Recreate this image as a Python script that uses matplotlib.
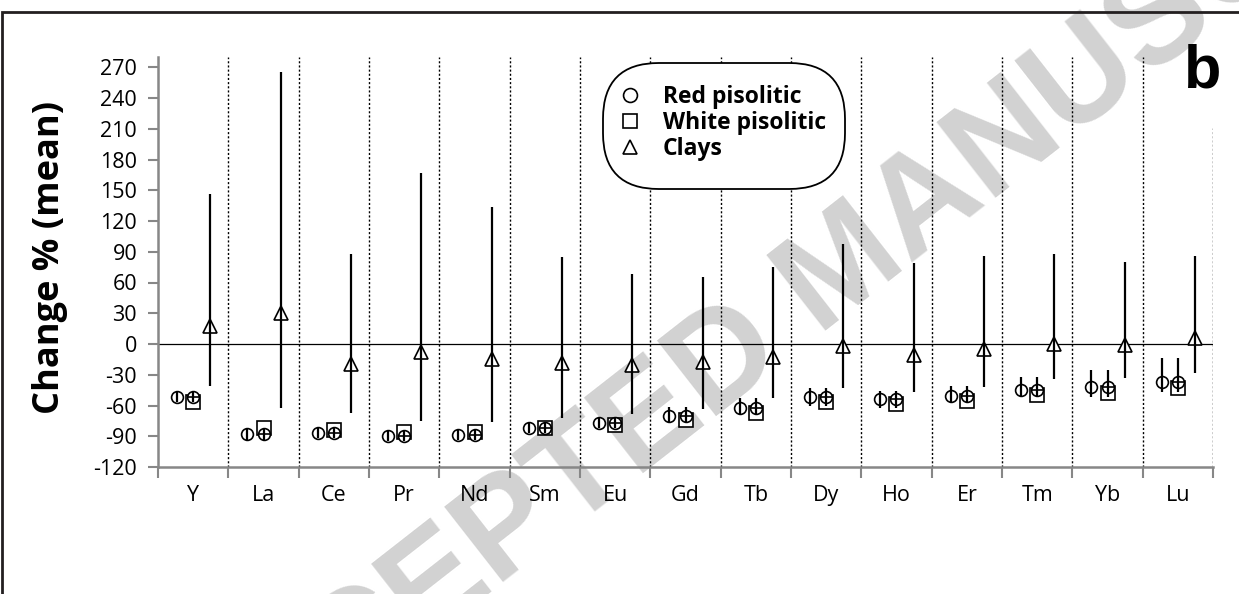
import matplotlib.pyplot as plt
import numpy as np
from matplotlib.lines import Line2D
from matplotlib.patches import Rectangle, FancyBboxPatch

# REE change % (mean)
elements = ['Y', 'La', 'Ce', 'Pr', 'Nd', 'Sm', 'Eu', 'Gd', 'Tb', 'Dy', 'Ho', 'Er', 'Tm', 'Yb', 'Lu']

red_mean = [-52, -88, -87, -90, -89, -82, -77, -70, -62, -52, -54, -51, -45, -42, -37]
red_low = [-57, -94, -92, -95, -94, -87, -82, -77, -69, -60, -62, -58, -52, -52, -47]
red_high = [-47, -82, -82, -85, -84, -77, -72, -61, -53, -43, -46, -41, -32, -25, -14]

white_mean = [-57, -82, -84, -86, -86, -82, -79, -74, -67, -57, -59, -56, -50, -48, -43]

clay_mean = [18, 30, -19.5, -8, -15, -18.5, -20.5, -17.5, -12.5, -2, -10.7, -5, 0, -1, 6]
clay_low = [-41, -62, -67, -75, -76, -72, -68, -63, -53, -43, -47, -42, -34.5, -33.5, -28]
clay_high = [146, 265, 88, 167, 134, 85, 68, 65, 75, 98, 79, 86, 88, 80, 86]

plt.rcParams['font.family'] = ['Open Sans', 'DejaVu Sans']
plt.rcParams['axes.unicode_minus'] = False

W, H = 1239, 594
fig = plt.figure(figsize=(W / 100, H / 100), dpi=100)
ax = fig.add_axes([158 / W, 1 - 467 / H, (1213 - 158) / W, (467 - 57) / H])
ax.patch.set_alpha(0)

# watermark behind everything
fig.text(845 / W, 1 - 270 / H, 'ACCEPTED MANUSCRIPT', fontsize=100, fontweight='bold',
         family='Liberation Sans', color='#d2d2d2', rotation=38, rotation_mode='anchor',
         ha='center', va='center', zorder=-5)

# figure frame (cut on right and bottom)
fig.patches.append(Rectangle((1.5 / W, -0.1), 1.2, 1.1 - 12 / H, transform=fig.transFigure,
                             fill=False, edgecolor='#231f20', linewidth=2))

x = np.arange(len(elements))
off_red, off_white, off_clay = -0.23, 0.0, 0.245


def draw(xpos, mean, low, high, marker, ms):
    mean = np.array(mean, dtype=float)
    yerr = None
    if low is not None:
        yerr = [mean - np.array(low), np.array(high) - mean]
    line, caps, bars = ax.errorbar(xpos, mean, yerr=yerr, fmt=marker, ms=ms, mfc='white',
                                   mec='black', mew=1.2, ecolor='black', elinewidth=1.6,
                                   capsize=0, zorder=4)
    for b in bars:
        b.set_zorder(5)


draw(x + off_white, white_mean, None, None, 's', 10)
draw(x + off_white, red_mean, red_low, red_high, 'o', 8.5)
ax.plot(x + off_white, red_mean, ls='none', marker='_', ms=8, mew=1.2, color='black', zorder=6)
draw(x + off_red, red_mean, red_low, red_high, 'o', 8.5)
draw(x + off_clay, clay_mean, clay_low, clay_high, '^', 9.5)

# separators and zero line
for b in np.arange(0.5, len(elements) - 1, 1.0):
    ax.axvline(b, color='black', lw=1, ls=(0, (1.5, 1.5)), zorder=1)
ax.axvline(len(elements) - 0.5, ymax=(211 + 120) / 400, color='black', lw=1, ls=(0, (1.5, 1.5)), zorder=1)
ax.axhline(0, color='black', lw=0.9, zorder=2)

ax.set_xlim(-0.5, len(elements) - 0.5)
ax.set_ylim(-120, 280)
ax.set_yticks(np.arange(-120, 271, 30))

ax.set_xticks(np.arange(-0.5, len(elements), 1.0))
ax.set_xticklabels([])
ax.set_xticks(x, minor=True)
ax.set_xticklabels(elements, minor=True)
ax.tick_params(axis='x', which='major', length=8, width=1.5, color='#878787')
ax.tick_params(axis='x', which='minor', length=0, pad=13, labelsize=15.5)
ax.tick_params(axis='y', length=7, width=1.5, color='#878787', labelsize=15.5, pad=8)

for s in ['top', 'right']:
    ax.spines[s].set_visible(False)
for s in ['left', 'bottom']:
    ax.spines[s].set_color('#878787')
    ax.spines[s].set_linewidth(1.8)
ax.spines['left'].set_bounds(-120, 280)

fig.text(50 / W, 1 - 257 / H, 'Change % (mean)', rotation=90, fontsize=26, fontweight='bold',
         ha='center', va='center')
fig.text(1203 / W, 1 - 72 / H, 'b', fontsize=44, fontweight='bold', family='Liberation Sans',
         ha='center', va='center')

# legend: rounded box drawn separately, entries as a frameless legend
fig.patches.append(FancyBboxPatch((603 / W, 1 - 189 / H), 242 / W, 126 / H,
                                  boxstyle='round,pad=0,rounding_size=0.045',
                                  mutation_aspect=W / H, transform=fig.transFigure,
                                  facecolor='white', edgecolor='black', linewidth=1.3, zorder=8))
handles = [
    Line2D([], [], ls='none', marker='o', ms=10, mfc='white', mec='black', mew=1.2),
    Line2D([], [], ls='none', marker='s', ms=10, mfc='white', mec='black', mew=1.2),
    Line2D([], [], ls='none', marker='^', ms=10, mfc='white', mec='black', mew=1.2),
]
leg = fig.legend(handles, ['Red pisolitic', 'White pisolitic', 'Clays'], loc='center left',
                 bbox_to_anchor=(619 / W, 1 - 123 / H), bbox_transform=fig.transFigure,
                 prop={'size': 16.5, 'weight': 'bold'}, frameon=False,
                 borderpad=0, labelspacing=0.08, handlelength=1.0, handletextpad=0.9,
                 borderaxespad=0)
leg.set_zorder(10)

fig.savefig('out.png', dpi=100)
